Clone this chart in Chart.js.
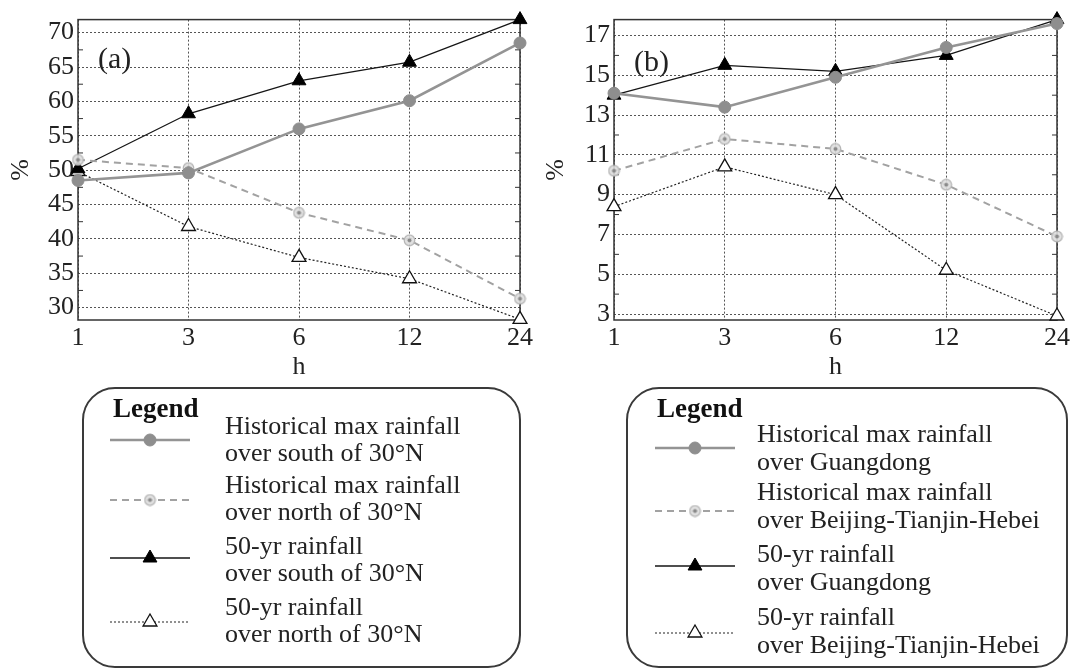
<!DOCTYPE html>
<html>
<head>
<meta charset="utf-8">
<script src="https://cdn.jsdelivr.net/npm/chart.js@4.4.1/dist/chart.umd.min.js"></script>
<style>
  html, body { margin: 0; padding: 0; background: #fff; }
  #wrap { position: relative; width: 1070px; height: 669px; overflow: hidden; }
  .panel { position: absolute; top: 0; height: 669px; }
</style>
</head>
<body>
<div id="wrap">
  <div class="panel" style="left:0; width:536px"><canvas id="chartA"></canvas></div>
  <div class="panel" style="left:535px; width:538px"><canvas id="chartB"></canvas></div>
</div>
<script>
const hours = ['1', '3', '6', '12', '24'];

// panel (a): south / north of 30°N
const southHistMax = [48.5, 49.6, 56.0, 60.1, 68.5];
const northHistMax = [51.5, 50.3, 43.8, 39.8, 31.3];
const south50yr = [50.2, 58.2, 63.0, 65.7, 71.9];
const north50yr = [49.8, 41.8, 37.3, 34.2, 28.3];
const ticksA = [30, 35, 40, 45, 50, 55, 60, 65, 70];
const minorA = [32.5, 37.5, 42.5, 47.5, 52.5, 57.5, 62.5, 67.5];
const legendA = [
    ['Historical max rainfall', 'over south of 30°N'],
    ['Historical max rainfall', 'over north of 30°N'],
    ['50-yr rainfall', 'over south of 30°N'],
    ['50-yr rainfall', 'over north of 30°N']
];

// panel (b): Guangdong / Beijing-Tianjin-Hebei
const gdHistMax = [14.1, 13.4, 14.9, 16.4, 17.6];
const bthHistMax = [10.2, 11.8, 11.3, 9.5, 6.9];
const gd50yr = [14.0, 15.5, 15.2, 16.0, 17.8];
const bth50yr = [8.4, 10.4, 9.0, 5.2, 2.9];
const ticksB = [3, 5, 7, 9, 11, 13, 15, 17];
const minorB = [4, 6, 8, 10, 12, 14, 16];
const legendB = [
    ['Historical max rainfall', 'over Guangdong'],
    ['Historical max rainfall', 'over Beijing-Tianjin-Hebei'],
    ['50-yr rainfall', 'over Guangdong'],
    ['50-yr rainfall', 'over Beijing-Tianjin-Hebei']
];

const SERIF = "'Liberation Serif', 'Times New Roman', serif";
const INK = '#222';

Chart.defaults.font.family = SERIF;

// light ring with a dark centre dot
function ringDot() {
    const c = document.createElement('canvas');
    c.width = 13;
    c.height = 13;
    const g = c.getContext('2d');
    g.beginPath();
    g.arc(6.5, 6.5, 5.3, 0, Math.PI * 2);
    g.fillStyle = 'rgba(222,222,222,0.9)';
    g.fill();
    g.lineWidth = 1.2;
    g.strokeStyle = '#b4b4b4';
    g.stroke();
    g.beginPath();
    g.arc(6.5, 6.5, 2, 0, Math.PI * 2);
    g.fillStyle = '#8a8a8a';
    g.fill();
    return c;
}

const ring = ringDot();

const seriesStyles = [
    { borderColor: '#949494', borderWidth: 2.6, borderDash: [], pointStyle: 'circle', pointRadius: 6,
      pointBackgroundColor: '#8e8e8e', pointBorderColor: '#8e8e8e', pointBorderWidth: 1 },
    { borderColor: '#a2a2a2', borderWidth: 2, borderDash: [7, 5], pointStyle: ring, pointRadius: 6,
      pointBackgroundColor: '#ddd', pointBorderColor: '#b4b4b4', pointBorderWidth: 0 },
    { borderColor: '#151515', borderWidth: 1.3, borderDash: [], pointStyle: 'triangle', pointRadius: 8,
      pointBackgroundColor: '#000', pointBorderColor: '#000', pointBorderWidth: 1 },
    { borderColor: '#222', borderWidth: 1.2, borderDash: [2, 2], pointStyle: 'triangle', pointRadius: 8,
      pointBackgroundColor: '#fff', pointBorderColor: '#111', pointBorderWidth: 1.3 }
];

const framePlugin = {
    id: 'frame',
    beforeDatasetsDraw(chart, args, opts) {
        const { ctx, chartArea: a, scales: { y } } = chart;
        ctx.save();
        ctx.strokeStyle = '#333';
        ctx.lineWidth = 1.5;
        ctx.strokeRect(a.left, a.top, a.right - a.left, a.bottom - a.top);

        ctx.lineWidth = 1;
        opts.minor.forEach(v => {
            const py = y.getPixelForValue(v);
            ctx.beginPath();
            ctx.moveTo(a.left, py);
            ctx.lineTo(a.left + 5, py);
            ctx.moveTo(a.right, py);
            ctx.lineTo(a.right - 5, py);
            ctx.stroke();
        });

        ctx.font = `30px ${SERIF}`;
        ctx.fillStyle = INK;
        ctx.textBaseline = 'middle';
        ctx.fillText(opts.tag, a.left + opts.tagX, a.top + opts.tagY);
        ctx.restore();
    }
};

const boxLegendPlugin = {
    id: 'boxLegend',
    afterDraw(chart, args, opts) {
        const ctx = chart.ctx;
        const b = opts.box;
        ctx.save();
        ctx.lineWidth = 2;
        ctx.strokeStyle = '#3a3a3a';
        ctx.beginPath();
        ctx.roundRect(b.x, b.y, b.w, b.h, b.r);
        ctx.stroke();

        ctx.fillStyle = '#111';
        ctx.textBaseline = 'middle';
        ctx.font = `bold 27px ${SERIF}`;
        ctx.fillText('Legend', opts.headX, opts.headY);

        ctx.font = `26px ${SERIF}`;
        chart.data.datasets.forEach((ds, i) => {
            const top = opts.rows[i];
            opts.lines[i].forEach((txt, k) => {
                ctx.fillStyle = INK;
                ctx.fillText(txt, opts.textX, top + k * opts.gap);
            });

            // sample line + marker
            const sy = opts.sampleY[i];
            ctx.strokeStyle = ds.borderColor;
            ctx.lineWidth = ds.borderWidth;
            ctx.setLineDash(ds.borderDash);
            ctx.beginPath();
            ctx.moveTo(opts.sampleX[0], sy);
            ctx.lineTo(opts.sampleX[1], sy);
            ctx.stroke();
            ctx.setLineDash([]);

            ctx.fillStyle = ds.pointBackgroundColor;
            ctx.strokeStyle = ds.pointBorderColor;
            ctx.lineWidth = ds.pointBorderWidth;
            Chart.helpers.drawPoint(ctx, {
                pointStyle: ds.pointStyle,
                radius: ds.pointRadius,
                borderWidth: ds.pointBorderWidth,
                rotation: 0
            }, (opts.sampleX[0] + opts.sampleX[1]) / 2, sy);
        });
        ctx.restore();
    }
};

function createPanel(ctx, {
    series,
    lines,
    yMin,
    yMax,
    yTicks,
    yMinor,
    yWidth,
    padTop,
    padRight,
    tag,
    tagY,
    legend
}) {

    return new Chart(ctx, {
        type: 'line',
        data: {
            labels: hours,
            datasets: series.map((data, i) => ({
                label: lines[i].join(' '),
                data,
                ...seriesStyles[i],
                tension: 0,
                fill: false,
                clip: false
            }))
        },

        options: {
            responsive: true,
            maintainAspectRatio: false,
            animation: false,
            devicePixelRatio: 1,
            events: [],

            layout: {
                padding: { left: 0, top: padTop, right: padRight, bottom: 286 }
            },

            plugins: {
                legend: { display: false },
                tooltip: { enabled: false },
                frame: { minor: yMinor, tag, tagX: 20, tagY },
                boxLegend: { ...legend, lines }
            },

            scales: {
                x: {
                    type: 'category',
                    offset: false,
                    grid: { color: '#555', lineWidth: 1, drawTicks: false },
                    border: { display: false, dash: [2, 2] },
                    ticks: {
                        color: INK,
                        font: { size: 26 },
                        padding: 3,
                        maxRotation: 0,
                        autoSkip: false
                    },
                    title: {
                        display: true,
                        text: 'h',
                        color: INK,
                        font: { size: 26 },
                        padding: 0
                    },
                    afterFit: scale => { scale.height = 63; }
                },

                y: {
                    min: yMin,
                    max: yMax,
                    grid: { color: '#555', lineWidth: 1, drawTicks: false },
                    border: { display: false, dash: [2, 2] },
                    ticks: {
                        color: INK,
                        font: { size: 26 },
                        padding: 4
                    },
                    afterBuildTicks: scale => {
                        scale.ticks = yTicks.map(v => ({ value: v }));
                    },
                    title: {
                        display: true,
                        text: '%',
                        color: INK,
                        font: { size: 26 },
                        padding: { top: 6, bottom: 0 }
                    },
                    afterFit: scale => { scale.width = yWidth; }
                }
            }
        },

        plugins: [framePlugin, boxLegendPlugin]
    });
}

createPanel(document.getElementById('chartA'), {
    series: [southHistMax, northHistMax, south50yr, north50yr],
    lines: legendA,
    yMin: 28.2,
    yMax: 71.9,
    yTicks: ticksA,
    yMinor: minorA,
    yWidth: 78,
    padTop: 18,
    padRight: 16,
    tag: '(a)',
    tagY: 41,
    legend: {
        box: { x: 83, y: 388, w: 437, h: 279, r: 32 },
        headX: 113,
        headY: 410,
        textX: 225,
        rows: [427, 486, 547, 608],
        gap: 27,
        sampleX: [110, 190],
        sampleY: [440, 500, 558, 622]
    }
});

createPanel(document.getElementById('chartB'), {
    series: [gdHistMax, bthHistMax, gd50yr, bth50yr],
    lines: legendB,
    yMin: 2.7,
    yMax: 17.8,
    yTicks: ticksB,
    yMinor: minorB,
    yWidth: 79,
    padTop: 16,
    padRight: 16,
    tag: '(b)',
    tagY: 44,
    legend: {
        box: { x: 92, y: 388, w: 440, h: 279, r: 32 },
        headX: 122,
        headY: 410,
        textX: 222,
        rows: [435, 493, 555, 618],
        gap: 28.5,
        sampleX: [120, 200],
        sampleY: [448, 511, 566, 633]
    }
});
</script>
</body>
</html>
